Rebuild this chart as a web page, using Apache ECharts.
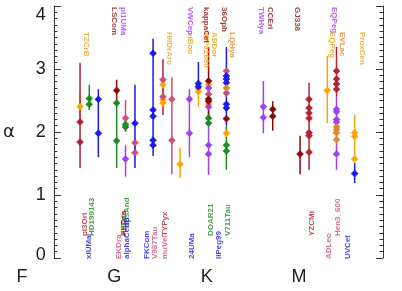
<!DOCTYPE html>
<html><head><meta charset="utf-8">
<script src="https://cdn.jsdelivr.net/npm/echarts@6/dist/echarts.min.js"></script>
<style>html,body{margin:0;padding:0;background:#fff}#c{width:402px;height:291px}</style>
</head><body><div id="c"></div>
<script>
// x = spectral subtype (F0=0, G0=10, K0=20, M0=30); y = alpha
const spectralTicks = ['F', 'G', 'K', 'M'];
const yTicks = [0, 1, 2, 3, 4];

const darkredBars = [[10.0, 2.50, 2.83], [20.04, 2.19, 3.35], [27.05, 2.02, 2.49], [30.04, 1.33, 1.94]];
const darkredPoints = [[10.0, 2.66], [20.04, 2.81], [20.04, 2.52], [20.04, 2.49], [21.99, 2.21], [27.05, 2.36], [27.05, 2.25], [30.04, 1.65]];
const darkredLabels = [['LSCom', 9.75, 'top1'], ['kappaCet', 19.77, 'top1'], ['36Oph', 21.74, 'top1'], ['CCEri', 26.79, 'top1'], ['GJ338', 29.76, 'top1']];

const firebrickBars = [[6.0, 1.43, 3.10], [15.06, 2.27, 3.16], [31.02, 1.40, 2.78], [34.02, 2.56, 3.35]];
const firebrickPoints = [[6.0, 2.16], [6.0, 1.84], [31.02, 2.52], [31.02, 2.38], [31.02, 2.30], [31.02, 2.22], [31.02, 1.99], [31.02, 1.94], [31.02, 1.68], [34.02, 2.97], [34.02, 2.84], [34.02, 2.76], [34.02, 2.68]];
const firebrickLabels = [['pi3Ori', 6.47, 'bot2'], ['AKDra', 10.73, 'bot2'], ['TYPyx', 15.31, 'bot2'], ['YZCMi', 31.28, 'bot2']];

const pinkBars = [[10.97, 2.00, 2.51], [12.0, 1.60, 1.90], [16.03, 1.33, 2.87]];
const pinkPoints = [[10.97, 2.22], [12.0, 1.83], [12.0, 1.67], [15.06, 2.83], [15.06, 2.56], [16.03, 2.52], [16.03, 1.87], [20.04, 2.60], [21.99, 2.97], [21.99, 2.62]];
const pinkLabels = [['EKDra', 10.2, 'bot1'], ['V987Tau', 14.19, 'bot1'], ['muVel', 15.31, 'bot1'], ['ADLeo', 33.19, 'bot1'], ['Hen3_600', 34.16, 'bot2']];

const orangeBars = [[6.0, 2.20, 2.60], [15.06, 2.40, 2.79], [16.93, 1.27, 1.75], [18.93, 2.40, 2.78], [33.01, 2.14, 3.21], [36.0, 1.56, 2.27]];
const orangePoints = [[6.0, 2.40], [15.06, 2.75], [15.06, 2.51], [15.06, 2.46], [16.93, 1.49], [18.93, 2.69], [18.93, 2.64], [20.04, 2.75], [20.04, 2.44], [21.99, 1.98], [33.01, 2.66], [36.0, 1.99], [36.0, 1.93], [36.0, 1.57]];
const orangeLabels = [['TZCrB', 6.72, 'top2'], ['HIIDrAro', 15.71, 'top2'], ['xiBoo', 18.02, 'top2'], ['HIP92680', 19.77, 'top2'], ['ABDor', 20.66, 'top2'], ['EQPeg', 33.59, 'top2'], ['ProxCen', 36.8, 'top2']];

const peruBars = [];
const peruPoints = [[21.99, 2.70], [34.02, 2.08], [34.02, 2.04], [34.02, 1.99], [34.02, 1.88]];
const peruLabels = [['LQHya', 22.64, 'top2'], ['EVLac', 34.64, 'top2']];

const greenBars = [[7.01, 2.35, 2.75], [10.0, 1.43, 2.51], [10.97, 2.02, 2.19], [20.04, 2.10, 2.28], [21.99, 1.40, 2.11]];
const greenPoints = [[7.01, 2.53], [7.01, 2.44], [10.0, 2.46], [10.0, 1.86], [10.97, 2.12], [10.97, 2.08], [20.04, 2.22], [20.04, 2.14], [21.99, 1.79], [21.99, 1.70]];
const greenLabels = [['HD199143', 7.29, 'bot2'], ['HIIDdo', 10.73, 'bot2'], ['upsAnd', 11.16, 'bot3'], ['DOAR21', 20.26, 'bot2'], ['V711Tau', 22.18, 'bot2']];

const blueBars = [[8.0, 1.60, 2.68], [12.0, 1.43, 2.75], [13.98, 1.62, 3.48], [18.93, 2.67, 3.11], [21.99, 2.11, 3.35], [36.0, 1.19, 1.51]];
const bluePoints = [[8.0, 2.52], [8.0, 1.98], [12.0, 2.14], [13.98, 3.25], [13.98, 2.35], [13.98, 2.25], [13.98, 1.87], [13.98, 1.79], [18.93, 2.77], [18.93, 2.72], [21.99, 2.89], [21.99, 2.84], [21.99, 2.78], [21.99, 2.44], [21.99, 2.38], [36.0, 1.34]];
const blueLabels = [['xiUMa', 7.01, 'bot1'], ['alphaCenB', 11.16, 'bot1'], ['FKCom', 13.33, 'bot1'], ['24UMa', 18.2, 'bot1'], ['IIPeg99', 21.13, 'bot1'], ['UVCet', 35.24, 'bot1']];

const purpleBars = [[10.97, 1.29, 1.79], [17.95, 1.60, 2.68], [20.04, 1.32, 2.75], [26.03, 1.98, 2.81], [34.02, 1.40, 2.56]];
const purplePoints = [[10.97, 1.57], [17.95, 2.52], [17.95, 1.98], [20.04, 2.70], [20.04, 2.40], [20.04, 1.79], [20.04, 1.65], [26.03, 2.40], [26.03, 2.23], [34.02, 2.36], [34.02, 2.32], [34.02, 2.20], [34.02, 2.16], [34.02, 1.65]];
const purpleLabels = [['pi1UMa', 10.67, 'top1'], ['VWCep', 18.02, 'top1'], ['TWHya', 25.79, 'top1'], ['EQPeg', 33.73, 'top1']];

// ---- styling / layout ----
const groups = [
  ['#ffa500', '#f0a020', orangeBars, orangePoints, orangeLabels],
  ['#a040f0', '#a040f0', purpleBars, purplePoints, purpleLabels],
  ['#c8507a', '#c8507a', pinkBars, pinkPoints, pinkLabels],
  ['#1f8a1f', '#1f8a1f', greenBars, greenPoints, greenLabels],
  ['#1a1ae6', '#1a1ae6', blueBars, bluePoints, blueLabels],
  ['#e0862a', '#e0862a', peruBars, peruPoints, peruLabels],
  ['#b22232', '#b22232', firebrickBars, firebrickPoints, firebrickLabels],
  ['#8b0a0a', '#8b0a0a', darkredBars, darkredPoints, darkredLabels]
];
const rowY = { top1: 3.984, top2: 3.587, bot1: -0.016, bot2: 0.349, bot3: 0.49 };
const pxPerUnit = 277 / 30;
const xMin = (51 - 22) / pxPerUnit, xMax = (383 - 22) / pxPerUnit;

const series = [];
groups.forEach(g => {
  series.push({
    type: 'custom', xAxisIndex: 0, yAxisIndex: 0, data: g[2], z: 2, silent: true,
    renderItem: (params, api) => {
      const a = api.coord([api.value(0), api.value(1)]);
      const b = api.coord([api.value(0), api.value(2)]);
      return { type: 'line', shape: { x1: a[0], y1: a[1], x2: b[0], y2: b[1] },
        style: { stroke: g[0], lineWidth: 1.5 } };
    }
  });
});
groups.forEach(g => {
  series.push({
    type: 'scatter', xAxisIndex: 0, yAxisIndex: 0, data: g[3], z: 3, silent: true,
    symbol: 'diamond', symbolSize: [7, 7],
    itemStyle: { color: g[0], borderColor: g[0], borderWidth: 0.5, opacity: 1 }
  });
});
groups.forEach(g => {
  series.push({
    type: 'scatter', xAxisIndex: 0, yAxisIndex: 0, z: 4, silent: true, clip: false,
    symbolSize: 0,
    data: g[4].map(l => ({ value: [l[1], rowY[l[2]]], name: l[0],
      label: { rotate: l[2].startsWith('top') ? -90 : 90 } })),
    label: { show: true, position: 'inside', formatter: p => p.name, color: g[1],
      fontFamily: 'Liberation Sans', fontSize: 8, fontWeight: 'bold', align: 'left', verticalAlign: 'middle' }
  });
});

const yAxisCommon = {
  type: 'value', min: 0, max: 4, interval: 1, gridIndex: 0,
  axisLine: { show: true, lineStyle: { color: '#333', width: 1 } },
  axisTick: { show: true, inside: true, length: 7, lineStyle: { color: '#333' } },
  minorTick: { show: true, splitNumber: 10, length: 3.5, lineStyle: { color: '#333' } },
  splitLine: { show: false }
};

const chart = echarts.init(document.getElementById('c'), null, { renderer: 'canvas' });
chart.setOption({
  animation: false,
  backgroundColor: '#fff',
  grid: [
    { left: 51, right: 19, top: 6, bottom: 33 },
    { left: 22, right: 103, top: 6, bottom: 33 }
  ],
  xAxis: [
    { type: 'value', gridIndex: 0, min: xMin, max: xMax, show: false },
    { type: 'value', gridIndex: 1, min: 0, max: 30, interval: 10,
      axisLine: { show: false }, axisTick: { show: false }, splitLine: { show: false },
      axisLabel: { margin: 10, fontSize: 18, color: '#222', fontFamily: 'Liberation Sans',
        formatter: v => spectralTicks[Math.round(v / 10)] } }
  ],
  yAxis: [
    Object.assign({}, yAxisCommon, {
      position: 'left', name: 'α', nameLocation: 'middle', nameGap: 39, nameRotate: 0,
      nameTextStyle: { fontSize: 18, color: '#222', fontFamily: 'DejaVu Sans' },
      axisLabel: { margin: 8, fontSize: 18, color: '#222', fontFamily: 'Liberation Sans',
        formatter: v => v === yTicks[4] ? '{a|' + v + '}' : (v === yTicks[0] ? '{b|' + v + '}' : String(v)),
        rich: { a: { fontSize: 18, color: '#222', fontFamily: 'Liberation Sans', padding: [18, 0, 0, 0] },
                b: { fontSize: 18, color: '#222', fontFamily: 'Liberation Sans', padding: [0, 0, 6, 0] } } }
    }),
    Object.assign({}, yAxisCommon, { position: 'right', axisLabel: { show: false } }),
    { type: 'value', gridIndex: 1, min: 0, max: 4, show: false }
  ],
  series: series
});
</script></body></html>
